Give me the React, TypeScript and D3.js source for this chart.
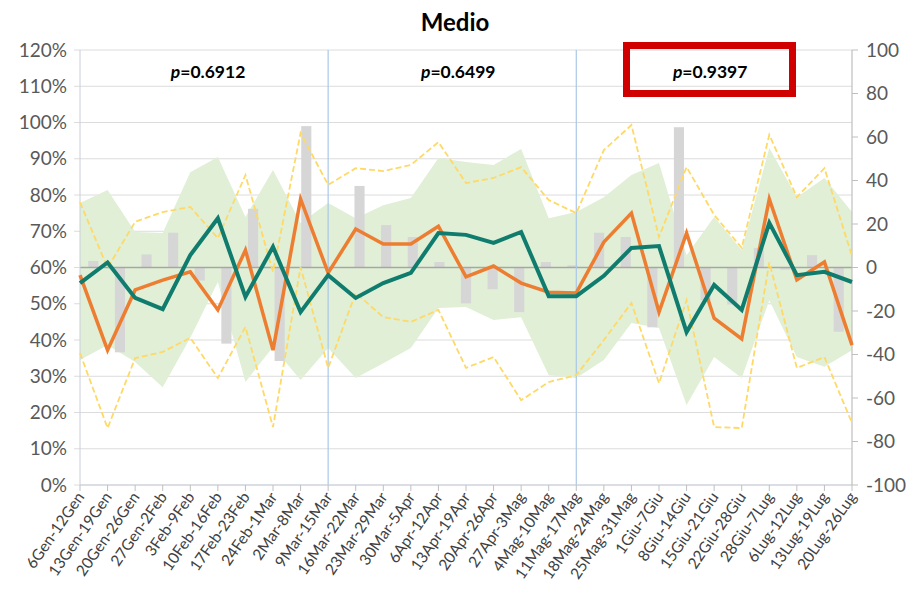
import React from "react";
import * as d3 from "d3";

const categories = [
  "6Gen-12Gen", "13Gen-19Gen", "20Gen-26Gen", "27Gen-2Feb", "3Feb-9Feb", "10Feb-16Feb",
  "17Feb-23Feb", "24Feb-1Mar", "2Mar-8Mar", "9Mar-15Mar", "16Mar-22Mar", "23Mar-29Mar",
  "30Mar-5Apr", "6Apr-12Apr", "13Apr-19Apr", "20Apr-26Apr", "27Apr-3Mag", "4Mag-10Mag",
  "11Mag-17Mag", "18Mag-24Mag", "25Mag-31Mag", "1Giu-7Giu", "8Giu-14Giu", "15Giu-21Giu",
  "22Giu-28Giu", "28Giu-7Lug", "6Lug-12Lug", "13Lug-19Lug", "20Lug-26Lug",
];

// left axis series (percent)
const tealLine = [55.7, 61.4, 51.6, 48.5, 63.4, 73.6, 51.9, 65.7, 47.7, 57.9, 51.6, 55.7, 58.5, 69.5, 69.0, 66.8, 69.8, 52.1, 52.1, 57.7, 65.4, 65.9, 42.2, 55.2, 48.3, 72.3, 57.9, 58.8, 56.0];
const orangeLine = [57.9, 37.2, 53.8, 56.5, 58.8, 48.3, 64.8, 37.2, 78.9, 58.5, 70.6, 66.5, 66.5, 71.4, 57.4, 60.4, 55.7, 53.2, 53.0, 67.0, 75.0, 47.7, 69.5, 46.0, 40.3, 78.9, 56.6, 61.5, 38.6];
const bandUpper = [77.8, 81.4, 69.8, 69.5, 86.3, 90.5, 73.9, 86.9, 72.3, 77.8, 73.6, 77.2, 79.2, 90.2, 89.1, 88.3, 92.7, 73.6, 75.3, 79.4, 85.5, 88.8, 63.4, 73.9, 64.8, 93.0, 79.4, 84.7, 75.3];
const bandLower = [34.5, 38.6, 33.9, 27.0, 40.6, 56.0, 28.4, 38.1, 29.0, 37.8, 29.5, 33.6, 37.8, 48.8, 49.1, 45.5, 46.3, 30.3, 29.5, 34.5, 44.7, 43.3, 22.1, 35.3, 29.5, 51.0, 35.3, 32.6, 37.2];
const yellowUpper = [78.0, 59.9, 72.6, 75.3, 76.7, 68.1, 85.5, 58.8, 97.1, 82.8, 87.4, 86.6, 88.3, 94.6, 83.3, 84.7, 87.7, 78.6, 75.0, 92.4, 99.3, 68.4, 87.7, 74.5, 65.4, 96.6, 79.4, 87.4, 63.2];
const yellowLower = [36.4, 15.7, 35.0, 36.7, 40.6, 29.5, 43.6, 16.0, 60.1, 32.3, 53.0, 46.3, 45.0, 48.3, 32.3, 35.3, 23.4, 28.4, 30.3, 40.0, 50.2, 28.1, 51.0, 16.0, 15.7, 61.4, 32.3, 35.3, 17.1];
// right axis bars
const barValues = [3, -39, 6, 16, -6, -35, 27, -43, 65, 0, 37.5, 19.5, 14, 2.5, -16.5, -10, -20.5, 2.5, 1, 16, 14, -27.5, 64.5, -15, -17, 9, -1, 5.7, -29.5];

const leftTicks = [0, 10, 20, 30, 40, 50, 60, 70, 80, 90, 100, 110, 120];
const rightTicks = [-100, -80, -60, -40, -20, 0, 20, 40, 60, 80, 100];
const pLabels = ["0.6912", "0.6499", "0.9397"];
const dividers = ["9Mar-15Mar", "11Mag-17Mag"];
const title = "Medio";

const X0 = 80, X1 = 852, Y0 = 50, Y1 = 485;
const FONT = "Lato, 'Open Sans', sans-serif";

export default function App() {
  const xp = d3.scalePoint<string>().domain(categories).range([X0, X1]);
  const xb = d3.scaleBand<string>().domain(categories).range([X0, X1]).paddingInner(0.62).paddingOuter(0.31);
  const yl = d3.scaleLinear().domain([0, 120]).range([Y1, Y0]);
  const yr = d3.scaleLinear().domain([-100, 100]).range([Y1, Y0]);

  const line = (vals: number[]) =>
    d3.line<number>().x((_, i) => xp(categories[i])!).y((v) => yl(v))(vals) || "";
  const area = d3
    .area<number>()
    .x((_, i) => xp(categories[i])!)
    .y0((_, i) => yl(bandLower[i]))
    .y1((v) => yl(v))(bandUpper) || "";

  const divX = dividers.map((d) => xp(d)!);
  const segs = [X0, ...divX, X1];

  return (
    <svg width={910} height={595} style={{ position: "absolute", left: 0, top: 0, background: "#fff" }} fontFamily={FONT}>
      <text x={455} y={31} textAnchor="middle" fontSize={24} fontWeight="bold" fill="#000">{title}</text>

      {/* gridlines */}
      {leftTicks.map((t) => (
        <line key={"g" + t} x1={X0 - 6} x2={X1} y1={yl(t)} y2={yl(t)} stroke="#dcdcdc" strokeWidth={1} />
      ))}

      {/* band */}
      <path d={area} fill="#E0EFD6" />

      {/* bars */}
      {barValues.map((v, i) => (
        <rect key={"b" + i} x={xb(categories[i])!} width={xb.bandwidth()} y={yr(Math.max(0, v))} height={Math.abs(yr(v) - yr(0))} fill="#D6D6D6" />
      ))}

      {/* zero line of right axis */}
      <line x1={X0} x2={X1} y1={yr(0)} y2={yr(0)} stroke="#a6a6a6" strokeWidth={1.5} />

      {/* dividers */}
      {divX.map((x, i) => (
        <line key={"d" + i} x1={x} x2={x} y1={Y0} y2={Y1} stroke="#a9c8e8" strokeWidth={1.2} />
      ))}

      {/* axes */}
      <line x1={X0} x2={X0} y1={Y0} y2={Y1} stroke="#c8d0dc" strokeWidth={1} />
      <line x1={X0} x2={X1} y1={Y1} y2={Y1} stroke="#c8d0dc" strokeWidth={1.2} />
      <line x1={X1} x2={X1} y1={Y0} y2={Y1} stroke="#bfbfbf" strokeWidth={1.2} />
      {categories.map((c) => (
        <line key={"t" + c} x1={xp(c)!} x2={xp(c)!} y1={Y1} y2={Y1 + 6} stroke="#bfbfbf" strokeWidth={1} />
      ))}
      {rightTicks.map((t) => (
        <line key={"rt" + t} x1={X1} x2={X1 + 6} y1={yr(t)} y2={yr(t)} stroke="#bfbfbf" strokeWidth={1} />
      ))}

      {/* yellow dashed */}
      <path d={line(yellowUpper)} fill="none" stroke="#FFD966" strokeWidth={1.8} strokeDasharray="6,3" />
      <path d={line(yellowLower)} fill="none" stroke="#FFD966" strokeWidth={1.8} strokeDasharray="6,3" />

      {/* main lines */}
      <path d={line(orangeLine)} fill="none" stroke="#ED7D31" strokeWidth={3.5} strokeLinejoin="miter" />
      <path d={line(tealLine)} fill="none" stroke="#107C6E" strokeWidth={4} strokeLinejoin="miter" />

      {/* left labels */}
      {leftTicks.map((t) => (
        <text key={"l" + t} x={67} y={yl(t)} dy="0.35em" textAnchor="end" fontSize={19} fill="#595959">{t + "%"}</text>
      ))}
      {rightTicks.map((t) => (
        <text key={"r" + t} x={866} y={yr(t)} dy="0.35em" textAnchor="start" fontSize={19} fill="#595959">{t}</text>
      ))}

      {/* x labels */}
      {categories.map((c) => (
        <text key={"x" + c} transform={`translate(${xp(c)! + 5},${Y1 + 12}) rotate(-55)`} textAnchor="end" fontSize={15.5} fill="#404040">{c}</text>
      ))}

      {/* p labels */}
      {pLabels.map((p, i) => (
        <text key={"p" + i} x={(segs[i] + segs[i + 1]) / 2 + (i === 1 ? 6 : i === 2 ? -4 : 4)} y={78} textAnchor="middle" fontSize={17.5} fontWeight="bold" fill="#000">
          <tspan fontStyle="italic">p</tspan>{"=" + p}
        </text>
      ))}

      {/* red box */}
      <rect x={626.5} y={45.5} width={166} height={48} fill="none" stroke="#D00000" strokeWidth={7} />
    </svg>
  );
}
